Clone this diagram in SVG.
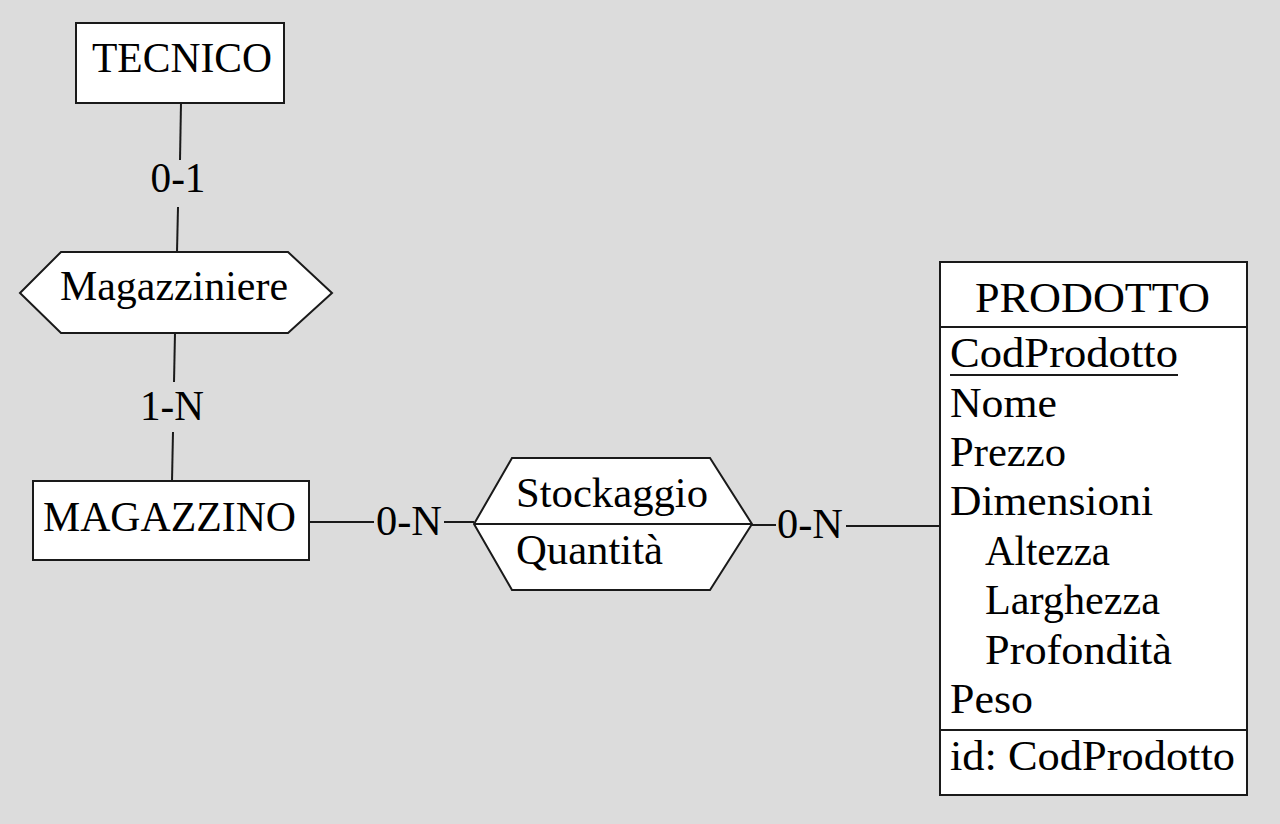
<svg xmlns="http://www.w3.org/2000/svg" width="1280" height="824" viewBox="0 0 1280 824">
<style>
.shape{fill:#fff;stroke:#1a1a1a;stroke-width:2}
.ln{stroke:#1a1a1a;stroke-width:2;fill:none}
text{font-family:"Liberation Serif","Times New Roman",serif;font-size:42px;fill:#000}
.c{text-anchor:middle}
</style>
<rect width="1280" height="824" fill="#dcdcdc"/>
<g id="connectors">
<polyline class="ln" points="181,103 180,160"/>
<polyline class="ln" points="178,207 177,252"/>
<text class="c" x="178" y="192" textLength="55" lengthAdjust="spacingAndGlyphs">0-1</text>
<polyline class="ln" points="175,333 174,382"/>
<polyline class="ln" points="173,432 172,481"/>
<text class="c" x="172" y="420" textLength="64" lengthAdjust="spacingAndGlyphs">1-N</text>
<line class="ln" x1="309" y1="522" x2="374" y2="522"/>
<line class="ln" x1="444" y1="522" x2="474" y2="522"/>
<text x="376" y="535" textLength="66" lengthAdjust="spacingAndGlyphs">0-N</text>
<line class="ln" x1="752" y1="525" x2="776" y2="525"/>
<line class="ln" x1="846" y1="526" x2="940" y2="526"/>
<text x="777" y="538" textLength="66" lengthAdjust="spacingAndGlyphs">0-N</text>
</g>
<g id="tecnico">
<rect class="shape" x="76" y="23" width="208" height="80"/>
<text x="92" y="72" textLength="180" lengthAdjust="spacingAndGlyphs">TECNICO</text>
</g>
<g id="magazziniere">
<polygon class="shape" points="20,293 61,252 288,252 332,293 288,333 61,333"/>
<text x="60" y="300" textLength="228" lengthAdjust="spacingAndGlyphs">Magazziniere</text>
</g>
<g id="magazzino">
<rect class="shape" x="33" y="481" width="276" height="79"/>
<text x="43" y="531" textLength="253" lengthAdjust="spacingAndGlyphs">MAGAZZINO</text>
</g>
<g id="stockaggio">
<polygon class="shape" points="474,524 512,458 710,458 752,524 710,590 512,590"/>
<line class="ln" x1="474" y1="524" x2="752" y2="524"/>
<text x="516" y="507" textLength="192" lengthAdjust="spacingAndGlyphs">Stockaggio</text>
<text x="516" y="564" textLength="147" lengthAdjust="spacingAndGlyphs">Quantità</text>
</g>
<g id="prodotto">
<rect class="shape" x="940" y="262" width="307" height="533"/>
<line class="ln" x1="940" y1="327" x2="1247" y2="327"/>
<line class="ln" x1="940" y1="730" x2="1247" y2="730"/>
<text x="975" y="312" textLength="235" lengthAdjust="spacingAndGlyphs">PRODOTTO</text>
<text x="950" y="367" textLength="228" lengthAdjust="spacingAndGlyphs">CodProdotto</text>
<line x1="950" y1="375" x2="1178" y2="375" stroke="#1a1a1a" stroke-width="2"/>
<text x="950" y="417" textLength="107" lengthAdjust="spacingAndGlyphs">Nome</text>
<text x="950" y="466" textLength="116" lengthAdjust="spacingAndGlyphs">Prezzo</text>
<text x="950" y="515" textLength="203" lengthAdjust="spacingAndGlyphs">Dimensioni</text>
<text x="985" y="565" textLength="125" lengthAdjust="spacingAndGlyphs">Altezza</text>
<text x="985" y="614" textLength="175" lengthAdjust="spacingAndGlyphs">Larghezza</text>
<text x="985" y="664" textLength="187" lengthAdjust="spacingAndGlyphs">Profondità</text>
<text x="950" y="713" textLength="83" lengthAdjust="spacingAndGlyphs">Peso</text>
<text x="950" y="770" textLength="285" lengthAdjust="spacingAndGlyphs">id: CodProdotto</text>
</g>
</svg>
